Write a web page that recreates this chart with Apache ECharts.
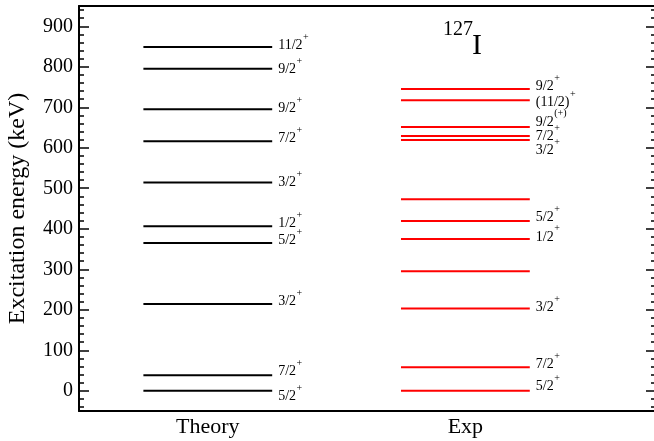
<!DOCTYPE html>
<html>
<head>
<meta charset="utf-8">
<script src="https://cdn.jsdelivr.net/npm/echarts@6/dist/echarts.min.js"></script>
<style>html,body{margin:0;padding:0;background:#fff}#c{width:654px;height:441px}</style>
</head>
<body>
<div id="c"></div>
<script>
// ---- data ----
const categories = ['Theory', 'Exp'];
const categoryPos = [1, 2];

const theoryEnergy = [0, 38, 214, 365, 406, 514, 616, 695, 795, 849];
const theorySpin = ['5/2', '7/2', '3/2', '5/2', '1/2', '3/2', '7/2', '9/2', '9/2', '11/2'];
const theoryParity = ['+', '+', '+', '+', '+', '+', '+', '+', '+', '+'];
const theoryLabelE = [-15, 47, 220, 372, 414, 515, 624, 698, 794, 853];

const expEnergy = [0, 58, 203, 295, 375, 419, 473, 619, 629, 651, 717, 745];
const expSpin = ['5/2', '7/2', '3/2', '', '1/2', '5/2', '', '3/2', '7/2', '9/2', '(11/2)', '9/2'];
const expParity = ['+', '+', '+', '', '+', '+', '', '+', '+', '(+)', '+', '+'];
const expLabelE = [10, 66, 206, null, 380, 429, null, 594, 627, 664, 713, 752];

const majorTicks = [0, 100, 200, 300, 400, 500, 600, 700, 800, 900];
const minorTicks = [];
for (let v = -40; v <= 940; v += 20) { if (v % 100 !== 0) minorTicks.push(v); }

// ---- rendering ----
const FONT = '"Liberation Serif", "DejaVu Serif", serif';
const measureCtx = document.createElement('canvas').getContext('2d');
function textWidth(t, size) { measureCtx.font = size + 'px ' + FONT; return measureCtx.measureText(t).width; }

const HALF = 0.25;
function makeRender(color, spins, parities) {
  return function (params, api) {
    const i = params.dataIndex;
    const col = api.value(0), E = api.value(1), LE = api.value(2);
    const p1 = api.coord([col - HALF, E]);
    const p2 = api.coord([col + HALF, E]);
    const children = [{
      type: 'line',
      shape: { x1: p1[0], y1: p1[1], x2: p2[0], y2: p2[1] },
      style: { stroke: color, lineWidth: 2 }
    }];
    if (spins[i]) {
      const pl = api.coord([col + HALF, LE]);
      const x = pl[0] + 6, y = pl[1];
      children.push({
        type: 'text', x: x, y: y,
        style: { text: spins[i], font: '14px ' + FONT, fill: '#000', align: 'left', verticalAlign: 'middle' }
      });
      children.push({
        type: 'text', x: x + textWidth(spins[i], 14) + 0.5, y: y - 8,
        style: { text: parities[i], font: '10px ' + FONT, fill: '#000', align: 'left', verticalAlign: 'middle' }
      });
    }
    return { type: 'group', children: children };
  };
}

const theoryData = theoryEnergy.map((e, i) => [categoryPos[0], e, theoryLabelE[i]]);
const expData = expEnergy.map((e, i) => [categoryPos[1], e, expLabelE[i] == null ? e : expLabelE[i]]);

const baseY = { type: 'value', min: -50, max: 950, splitLine: { show: false } };
const chart = echarts.init(document.getElementById('c'), null, { renderer: 'canvas' });
chart.setOption({
  animation: false,
  backgroundColor: '#fff',
  grid: { left: 79, top: 6, width: 577, height: 405, containLabel: false, outerBoundsMode: 'none' },
  graphic: [
    { type: 'text', x: 473, y: 30, style: { text: '127', font: '20px ' + FONT, fill: '#000', align: 'right', verticalAlign: 'middle' } },
    { type: 'text', x: 472, y: 46, style: { text: 'I', font: '30px ' + FONT, fill: '#000', align: 'left', verticalAlign: 'middle' } }
  ],
  xAxis: [
    {
      type: 'value', min: 0.5, max: 2.74, position: 'bottom',
      axisLine: { show: true, onZero: false, lineStyle: { color: '#000', width: 2 } },
      axisTick: { show: false }, splitLine: { show: false },
      axisLabel: {
        customValues: categoryPos, margin: 5,
        formatter: v => categories[categoryPos.indexOf(v)] || '',
        fontFamily: FONT, fontSize: 22, color: '#000'
      }
    },
    {
      type: 'value', min: 0.5, max: 2.74, position: 'top',
      axisLine: { show: true, onZero: false, lineStyle: { color: '#000', width: 2 } },
      axisTick: { show: false }, axisLabel: { show: false }, splitLine: { show: false }
    }
  ],
  yAxis: [
    Object.assign({}, baseY, {
      position: 'left',
      name: 'Excitation energy (keV)', nameLocation: 'middle', nameGap: 49, nameRotate: 90,
      nameTextStyle: { fontFamily: FONT, fontSize: 24, color: '#000' },
      axisLine: { show: true, onZero: false, lineStyle: { color: '#000', width: 2 } },
      axisTick: { show: true, inside: true, length: 10, customValues: majorTicks, lineStyle: { color: '#000', width: 1.5 } },
      axisLabel: { customValues: majorTicks, margin: 6, fontFamily: FONT, fontSize: 20, color: '#000' }
    }),
    Object.assign({}, baseY, {
      position: 'left',
      axisLine: { show: false },
      axisTick: { show: true, inside: true, length: 5, customValues: minorTicks, lineStyle: { color: '#000', width: 1.5 } },
      axisLabel: { show: false }
    }),
    Object.assign({}, baseY, {
      position: 'right',
      axisLine: { show: true, onZero: false, lineStyle: { color: '#000', width: 2 } },
      axisTick: { show: true, inside: true, length: 10, customValues: majorTicks, lineStyle: { color: '#000', width: 1.5 } },
      axisLabel: { show: false }
    }),
    Object.assign({}, baseY, {
      position: 'right',
      axisLine: { show: false },
      axisTick: { show: true, inside: true, length: 5, customValues: minorTicks, lineStyle: { color: '#000', width: 1.5 } },
      axisLabel: { show: false }
    })
  ],
  series: [
    { type: 'custom', name: 'Theory', xAxisIndex: 0, yAxisIndex: 0, clip: false,
      encode: { x: 0, y: 1 }, data: theoryData, renderItem: makeRender('#000000', theorySpin, theoryParity) },
    { type: 'custom', name: 'Exp', xAxisIndex: 0, yAxisIndex: 0, clip: false,
      encode: { x: 0, y: 1 }, data: expData, renderItem: makeRender('#ff0000', expSpin, expParity) }
  ]
});
</script>
</body>
</html>
